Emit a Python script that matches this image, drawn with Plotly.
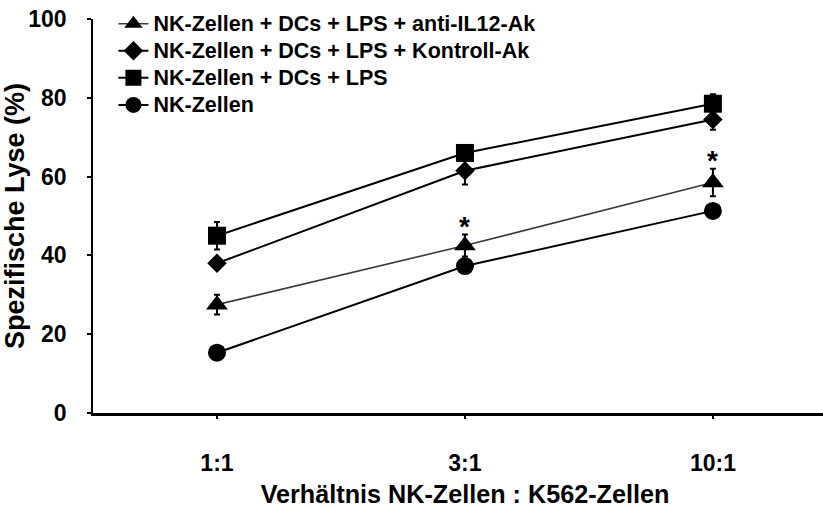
import plotly.graph_objects as go

# Effector : target ratios
ratios = ["1:1", "3:1", "10:1"]

# Specific lysis (%) and standard deviations per condition
nk_dc_lps_anti_il12 = [27.5, 42.5, 58.5]
nk_dc_lps_anti_il12_err = [2.5, 2.8, 3.5]

nk_dc_lps_ctrl = [38.0, 61.5, 74.5]
nk_dc_lps_ctrl_err = [1.0, 3.5, 2.6]

nk_dc_lps = [45.0, 66.0, 78.5]
nk_dc_lps_err = [3.5, 1.0, 2.4]

nk_only = [15.3, 37.3, 51.3]
nk_only_err = [1.0, 1.5, 1.2]

# Significance marks (category index of the anti-IL12 series)
significant = [1, 2]

FONT = "Liberation Sans, Arial, sans-serif"
xpos = list(range(len(ratios)))

series = [
    ("NK-Zellen + DCs + LPS + anti-IL12-Ak", nk_dc_lps_anti_il12, nk_dc_lps_anti_il12_err,
     "triangle-up", 19, "#3a3a3a", 1.6),
    ("NK-Zellen + DCs + LPS + Kontroll-Ak", nk_dc_lps_ctrl, nk_dc_lps_ctrl_err,
     "diamond", 15, "black", 2),
    ("NK-Zellen + DCs + LPS", nk_dc_lps, nk_dc_lps_err,
     "square", 18, "black", 2),
    ("NK-Zellen", nk_only, nk_only_err,
     "circle", 18, "black", 2),
]

fig = go.Figure()
for name, vals, errs, sym, size, lcol, lw in series:
    fig.add_trace(go.Scatter(
        x=xpos, y=vals, mode="lines+markers",
        name=f'<span style="font-size:21.5px">{name}</span>',
        line=dict(color=lcol, width=lw),
        marker=dict(symbol=sym, size=size, color="black"),
        error_y=dict(type="data", array=errs, visible=True,
                     color="black", thickness=2, width=3),
    ))

for i in significant:
    fig.add_annotation(
        x=xpos[i], y=nk_dc_lps_anti_il12[i] + nk_dc_lps_anti_il12_err[i],
        text="*", showarrow=False, yanchor="bottom", yshift=-9,
        font=dict(family=FONT, size=28, color="black", weight="bold"),
    )

fig.update_layout(
    width=823, height=508,
    margin=dict(l=93, r=0, t=19, b=95, autoexpand=False),
    paper_bgcolor="white", plot_bgcolor="white",
    font=dict(family=FONT, color="black"),
    showlegend=True,
    legend=dict(
        x=0.028, y=1.035, xanchor="left", yanchor="top",
        bgcolor="rgba(0,0,0,0)", tracegroupgap=0,
        font=dict(family=FONT, size=18.5, color="black", weight="bold"),
        itemwidth=30,
    ),
)

fig.update_xaxes(
    range=[-0.5, 2.444], tickmode="array", tickvals=xpos, ticktext=ratios,
    showline=True, linecolor="black", linewidth=2.5,
    ticks="outside", ticklen=3, tickwidth=2, tickcolor="black",
    ticklabelstandoff=25, showgrid=False, zeroline=False, automargin=False,
    tickfont=dict(family=FONT, size=23, weight="bold"),
    title=dict(text="&nbsp;&nbsp;Verhältnis NK-Zellen : K562-Zellen", standoff=14,
               font=dict(family=FONT, size=25.2, weight="bold")),
)

fig.update_yaxes(
    range=[0, 100], tickvals=[0, 20, 40, 60, 80, 100],
    showline=True, linecolor="black", linewidth=1.5,
    ticks="outside", ticklen=4, tickwidth=1.5, tickcolor="black",
    ticklabelstandoff=16, showgrid=False, zeroline=False, automargin=False,
    tickfont=dict(family=FONT, size=23, weight="bold"),
    title=dict(text="Spezifische Lyse (%)", standoff=8,
               font=dict(family=FONT, size=27, weight="bold")),
)

fig.write_html("out.html")
